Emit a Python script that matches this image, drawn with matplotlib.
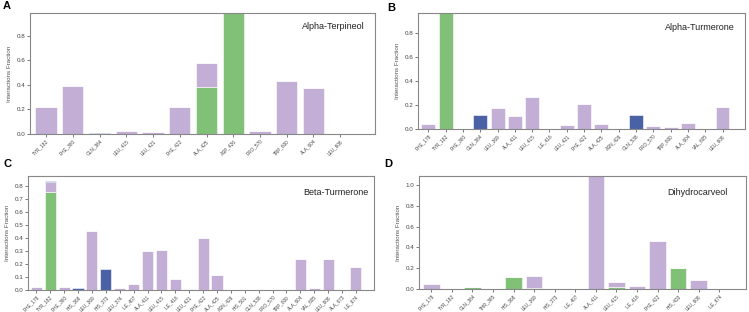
import matplotlib
matplotlib.use('Agg')
import matplotlib.pyplot as plt

plt.rcParams['font.family'] = ['Liberation Sans', 'DejaVu Sans']

green = '#80c077'
purple = '#c3aed6'
blue = '#4a62a5'

# A - Alpha-Terpineol
res_a = ['TYR_182', 'PHE_360', 'GLN_364', 'LEU_415', 'LEU_421', 'PHE_422',
         'ALA_425', 'ASP_426', 'PRO_570', 'TRP_600', 'ALA_604', 'LEU_608']
hb_a = [0, 0, 0, 0, 0, 0, 0.38, 1.0, 0, 0, 0, 0]
hp_a = [0.222, 0.393, 0, 0.024, 0.014, 0.217, 0.20, 0, 0.024, 0.431, 0.377, 0]
wb_a = [0, 0, 0.012, 0, 0, 0, 0, 0, 0, 0, 0, 0]

# B - Alpha-Turmerone
res_b = ['PHE_178', 'TYR_182', 'PHE_360', 'GLN_364', 'LEU_369', 'ALA_411',
         'LEU_415', 'ILE_416', 'LEU_421', 'PHE_422', 'ALA_425', 'ASN_426',
         'GLN_538', 'PRO_570', 'TRP_600', 'ALA_604', 'VAL_605', 'LEU_608']
hb_b = [0, 1.0, 0, 0.004, 0, 0, 0, 0, 0, 0, 0, 0, 0, 0, 0, 0, 0, 0]
hp_b = [0.042, 0, 0.004, 0, 0.174, 0.105, 0.266, 0.003, 0.033, 0.205, 0.044,
        0, 0, 0.028, 0.014, 0.047, 0, 0.18]
wb_b = [0, 0, 0, 0.115, 0, 0, 0, 0, 0, 0, 0, 0, 0.119, 0, 0, 0, 0, 0]

# C - Beta-Turmerone
res_c = ['PHE_178', 'TYR_182', 'PHE_360', 'HIS_368', 'LEU_369', 'HIS_373',
         'LEU_374', 'ILE_407', 'ALA_411', 'LEU_415', 'ILE_416', 'LEU_421',
         'PHE_422', 'ALA_425', 'ASN_426', 'HIS_501', 'GLN_538', 'PRO_570',
         'TRP_600', 'ALA_604', 'VAL_605', 'LEU_608', 'ALA_673', 'ILE_674']
hb_c = [0, 0.752, 0, 0, 0, 0, 0, 0, 0, 0, 0, 0, 0, 0, 0, 0, 0, 0, 0, 0, 0, 0, 0, 0]
hp_c = [0.023, 0.073, 0.025, 0, 0.451, 0, 0.018, 0.043, 0.298, 0.306, 0.082,
        0.005, 0.4, 0.115, 0, 0, 0, 0.003, 0.002, 0.24, 0.013, 0.24, 0.002, 0.173]
wb_c = [0, 0.011, 0, 0.018, 0, 0.158, 0, 0, 0, 0, 0, 0, 0, 0, 0, 0, 0, 0, 0, 0,
        0, 0, 0, 0]

# D - Dihydrocarveol
res_d = ['PHE_178', 'TYR_182', 'GLN_364', 'THR_365', 'HIS_368', 'LEU_369',
         'HIS_373', 'ILE_407', 'ALA_411', 'LEU_415', 'ILE_416', 'PHE_422',
         'HIS_433', 'LEU_608', 'ILE_674']
hb_d = [0, 0, 0.022, 0, 0.111, 0.01, 0, 0, 0, 0.015, 0, 0, 0.204, 0, 0]
hp_d = [0.051, 0, 0, 0, 0, 0.111, 0, 0, 1.1, 0.055, 0.032, 0.462, 0, 0.089, 0]
wb_d = [0] * 15

panels = [
    ('A', 'Alpha-Terpineol', res_a, hb_a, hp_a, wb_a,
     [30, 13, 375, 134], 0.987, [0, 0.2, 0.4, 0.6, 0.8], (0.97, 0.885), (3, 1)),
    ('B', 'Alpha-Turmerone', res_b, hb_b, hp_b, wb_b,
     [418, 13, 745, 129], 0.97, [0, 0.2, 0.4, 0.6, 0.8], (0.969, 0.877), (387, 3)),
    ('C', 'Beta-Turmerone', res_c, hb_c, hp_c, wb_c,
     [28, 176, 374, 290], 0.874, [0, 0.1, 0.2, 0.3, 0.4, 0.5, 0.6, 0.7, 0.8],
     (0.983, 0.851), (3, 159)),
    ('D', 'Dihydrocarveol', res_d, hb_d, hp_d, wb_d,
     [419, 176, 746, 289], 1.086, [0, 0.2, 0.4, 0.6, 0.8, 1.0], (0.942, 0.854),
     (384, 159)),
]

W, H = 749, 312
fig = plt.figure(figsize=(W / 100, H / 100), dpi=100)

for letter, name, res, hb, hp, wb, box, ytop, yt, tpos, lpos in panels:
    x0, y0, x1, y1 = box
    ax = fig.add_axes([x0 / W, 1 - y1 / H, (x1 - x0) / W, (y1 - y0) / H])
    x = range(len(res))
    bot2 = [a + b for a, b in zip(hb, hp)]
    ax.bar(x, hb, width=0.8, color=green, edgecolor='white', linewidth=0.4)
    ax.bar(x, hp, width=0.8, bottom=hb, color=purple, edgecolor='white', linewidth=0.4)
    ax.bar(x, wb, width=0.8, bottom=bot2, color=blue, edgecolor='white', linewidth=0.4)
    ax.set_xlim(-0.6, len(res) + 0.3)
    ax.set_ylim(0, ytop)
    ax.set_yticks(yt)
    ax.set_yticklabels(['%.1f' % v for v in yt])
    ax.set_xticks(list(x))
    ax.set_xticklabels(res, rotation=45, ha='right', rotation_mode='anchor')
    ax.tick_params(axis='y', labelsize=4.5, length=2, width=0.5, pad=1.5, colors='#444444')
    ax.tick_params(axis='x', labelsize=3.4, length=2, width=0.5, pad=1.2, colors='#444444')
    ax.set_ylabel('Interactions Fraction', fontsize=4.5, color='#555555', labelpad=3)
    for s in ax.spines.values():
        s.set_color('#888888')
        s.set_linewidth(0.8)
    ax.text(tpos[0], tpos[1], name, transform=ax.transAxes, ha='right', va='center',
            fontsize=6.5, color='#222222')
    fig.text(lpos[0] / W, 1 - lpos[1] / H, letter, ha='left', va='top',
             fontsize=8, fontweight='bold')

fig.savefig('out.png', dpi=100)
